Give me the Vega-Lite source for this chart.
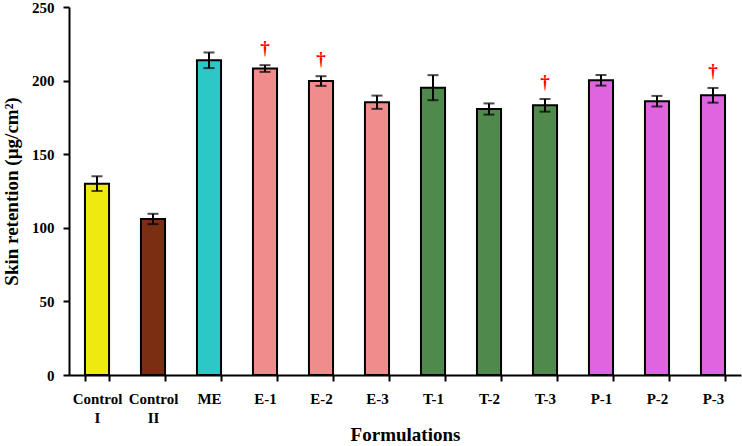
{
  "$schema": "https://vega.github.io/schema/vega-lite/v6.json",
  "width": 672,
  "height": 368,
  "autosize": {"type": "none"},
  "padding": {"left": 69, "top": 7, "right": 1, "bottom": 71},
  "background": "white",
  "config": {
    "view": {"stroke": null},
    "font": "Liberation Serif",
    "axis": {"grid": false, "domainColor": "black", "domainWidth": 2, "tickColor": "black", "tickWidth": 2, "labelColor": "black", "titleColor": "black", "labelFont": "Liberation Serif", "titleFont": "Liberation Serif", "labelFontWeight": "bold", "titleFontWeight": "bold", "labelFontSize": 15, "titleFontSize": 19}
  },
  "data": {
    "values": [
      {"f": "Control I", "v": 130, "e": 5, "g": "C1", "sig": ""},
      {"f": "Control II", "v": 106, "e": 3.5, "g": "C2", "sig": ""},
      {"f": "ME", "v": 213.8, "e": 5.3, "g": "ME", "sig": ""},
      {"f": "E-1", "v": 208.2, "e": 2.3, "g": "E", "sig": "†"},
      {"f": "E-2", "v": 199.7, "e": 3.3, "g": "E", "sig": "†"},
      {"f": "E-3", "v": 185.3, "e": 4.5, "g": "E", "sig": ""},
      {"f": "T-1", "v": 195.2, "e": 8.5, "g": "T", "sig": ""},
      {"f": "T-2", "v": 180.7, "e": 3.8, "g": "T", "sig": ""},
      {"f": "T-3", "v": 183.2, "e": 4.3, "g": "T", "sig": "†"},
      {"f": "P-1", "v": 200.2, "e": 3.6, "g": "P", "sig": ""},
      {"f": "P-2", "v": 186, "e": 3.6, "g": "P", "sig": ""},
      {"f": "P-3", "v": 190, "e": 5, "g": "P", "sig": "†"}
    ]
  },
  "transform": [
    {"calculate": "datum.v - datum.e", "as": "lo"},
    {"calculate": "datum.v + datum.e", "as": "hi"}
  ],
  "encoding": {
    "x": {
      "field": "f", "type": "nominal", "sort": null,
      "scale": {"paddingInner": 0.57, "paddingOuter": 0.285},
      "axis": {"title": "Formulations", "labelAngle": 0, "tickBand": "extent", "tickSize": 6, "labelPadding": 10, "titlePadding": 0,
        "labelExpr": "indexof(datum.label, 'Control') == 0 ? split(datum.label, ' ') : datum.label", "labelLineHeight": 19, "labelBaseline": "top"}
    }
  },
  "layer": [
    {
      "mark": {"type": "bar", "stroke": "black", "strokeWidth": 2},
      "encoding": {
        "y": {"field": "v", "type": "quantitative", "scale": {"domain": [0, 250], "nice": false},
          "axis": {"title": "Skin retention (µg/cm²)", "values": [0, 50, 100, 150, 200, 250], "tickSize": 6, "labelPadding": 9, "titlePadding": 10}},
        "fill": {"field": "g", "type": "nominal", "legend": null,
          "scale": {"domain": ["C1", "C2", "ME", "E", "T", "P"], "range": ["#EEEA10", "#7A2E12", "#2CC8C8", "#F08C8C", "#4F8A4C", "#E063E0"]}}
      }
    },
    {
      "mark": {"type": "rule", "color": "black", "strokeWidth": 2},
      "encoding": {"y": {"field": "lo", "type": "quantitative"}, "y2": {"field": "hi"}}
    },
    {
      "mark": {"type": "tick", "color": "black", "thickness": 2, "size": 11},
      "encoding": {"y": {"field": "lo", "type": "quantitative"}}
    },
    {
      "mark": {"type": "tick", "color": "black", "thickness": 2, "size": 11},
      "encoding": {"y": {"field": "hi", "type": "quantitative"}}
    },
    {
      "mark": {"type": "text", "color": "red", "fontWeight": "bold", "fontSize": 19, "dy": -17, "baseline": "middle"},
      "encoding": {"y": {"field": "hi", "type": "quantitative"}, "text": {"field": "sig"}}
    }
  ]
}
